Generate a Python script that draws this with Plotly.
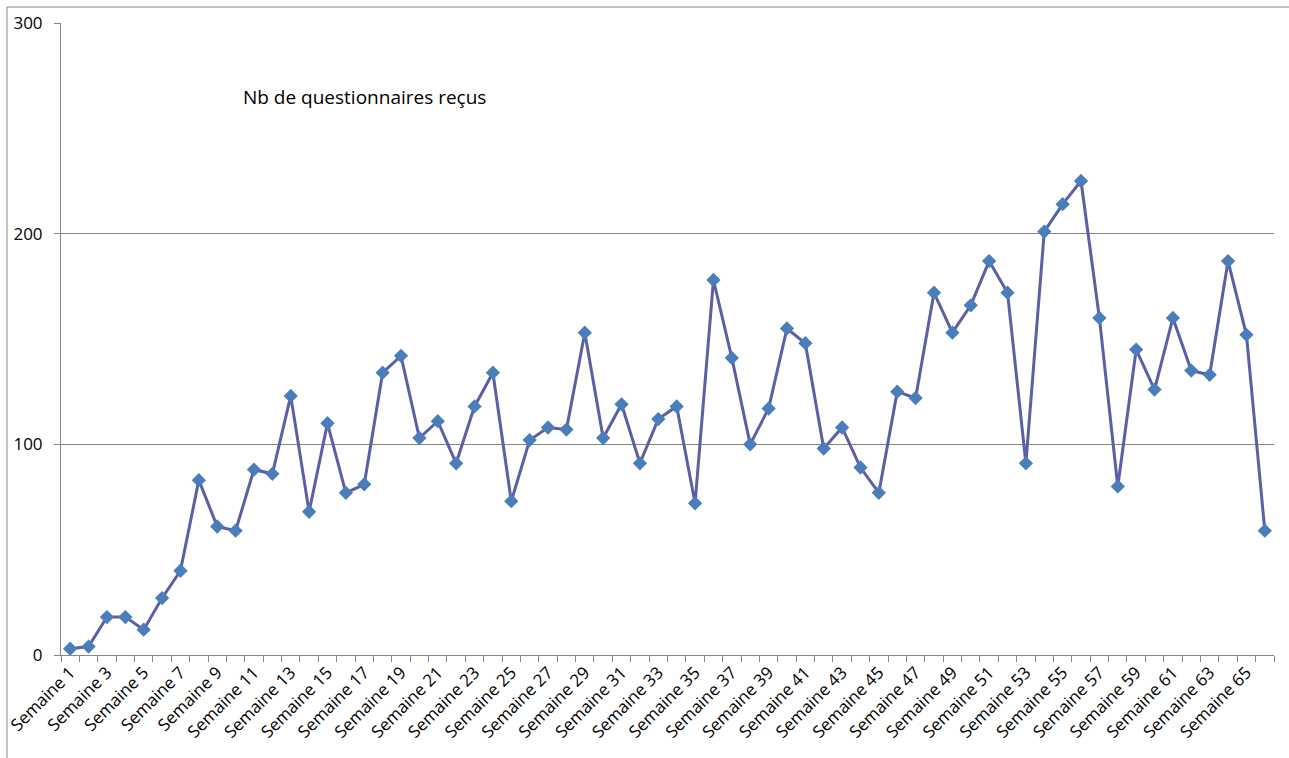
import plotly.graph_objects as go

weeks = list(range(1, 67))
categories = [f"Semaine {w}" for w in weeks]
values = [3, 4, 18, 18, 12, 27, 40, 83, 61, 59,
          88, 86, 123, 68, 110, 77, 81, 134, 142, 103,
          111, 91, 118, 134, 73, 102, 108, 107, 153, 103,
          119, 91, 112, 118, 72, 178, 141, 100, 117, 155,
          148, 98, 108, 89, 77, 125, 122, 172, 153, 166,
          187, 172, 91, 201, 214, 225, 160, 80, 145, 126,
          160, 135, 133, 187, 152, 59]
y_ticks = [0, 100, 200, 300]
label_weeks = weeks[::2]
label_text = categories[::2]
title_text = "Nb de questionnaires reçus"

W, H = 1289, 758
ml, mr, mt, mb = 61, 15, 23, 103
pw, ph = W - ml - mr, H - mt - mb

fig = go.Figure()
fig.add_trace(go.Scatter(
    x=weeks, y=values, mode="lines+markers",
    line=dict(color="#5b5fa3", width=3),
    marker=dict(symbol="diamond", size=11, color="#4a7ebb",
                line=dict(width=0)),
    hoverinfo="y", showlegend=False,
))

gray = "#868686"
fig.update_layout(
    width=W, height=H,
    margin=dict(l=ml, r=mr, t=mt, b=mb, autoexpand=False),
    paper_bgcolor="white", plot_bgcolor="white",
    font=dict(family="Open Sans", size=16, color="#000000"),
    xaxis=dict(
        range=[0.5, 66.5], tickmode="array", tickvals=label_weeks,
        ticktext=label_text, tickangle=-45, ticks="", showgrid=False,
        showline=True, linecolor=gray, linewidth=1, zeroline=False,
        tickfont=dict(family="Open Sans", size=17),
        minor=dict(tick0=0.5, dtick=1, ticks="outside", ticklen=6,
                   tickcolor=gray, tickwidth=1, showgrid=False),
        automargin=False, fixedrange=True,
    ),
    yaxis=dict(
        range=[0, 300], tickmode="array", tickvals=y_ticks,
        ticks="outside", ticklen=6, tickcolor=gray,
        showgrid=True, gridcolor=gray, gridwidth=1,
        showline=True, linecolor=gray, linewidth=1, zeroline=False,
        tickfont=dict(family="Open Sans", size=17),
        ticklabelstandoff=8,
        automargin=False, fixedrange=True,
    ),
    annotations=[dict(
        text=title_text, xref="paper", yref="paper",
        x=(241 - ml) / pw, y=(655 - 97) / ph, xanchor="left", yanchor="middle",
        showarrow=False, font=dict(family="Open Sans", size=19, color="#000000"),
    )],
    shapes=[dict(
        type="rect", xref="paper", yref="paper",
        x0=(7 - ml) / pw, x1=(W + 20 - ml) / pw,
        y0=-(H + 20 - (H - mb)) / ph, y1=1 + (mt - 7) / ph,
        line=dict(color=gray, width=1), fillcolor="rgba(0,0,0,0)", layer="below",
    )],
)

fig.write_html(
    "out.html",
    config={"displayModeBar": False},
    post_script="document.body.style.margin='0';document.body.style.overflow='hidden';",
)
